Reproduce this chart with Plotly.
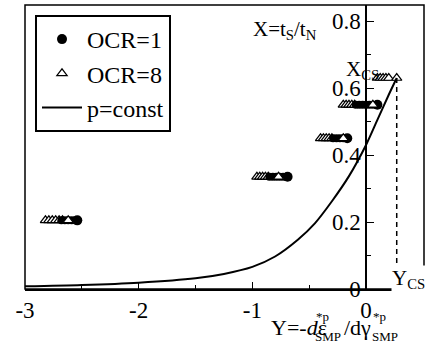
import plotly.graph_objects as go

# ---- data -------------------------------------------------------------
# stress-ratio levels X = tS/tN of the five constant-X paths
path_X = [0.205, 0.335, 0.45, 0.55, 0.63]

# OCR=8 (open triangles): trail of points and final point at each level
ocr8_trail_Y = [
    [-2.82, -2.79, -2.76, -2.73, -2.70, -2.67],
    [-0.96, -0.935, -0.91, -0.885, -0.86],
    [-0.40, -0.375, -0.35, -0.325, -0.30],
    [-0.20, -0.175, -0.15, -0.125, -0.10],
    [0.10, 0.125, 0.15, 0.175, 0.20],
]
ocr8_end_Y = [-2.62, -0.77, -0.20, 0.06, 0.27]

# OCR=1 (filled circles): trail of points and final point at each level
ocr1_trail_Y = [
    [-2.68, -2.65, -2.62, -2.59, -2.56],
    [-0.85, -0.82, -0.79, -0.76, -0.73, -0.70],
    [-0.29, -0.26, -0.23, -0.20],
    [-0.09, -0.06, -0.03, 0.0, 0.03, 0.06],
    [],
]
ocr1_end_Y = [-2.54, -0.69, -0.165, 0.10, None]

# p = const curve
curve_Y = [-3.0, -2.5, -2.0, -1.5, -1.25, -1.0, -0.8, -0.6, -0.45, -0.3,
           -0.15, 0.0, 0.1, 0.2, 0.27]
curve_X = [0.008, 0.012, 0.019, 0.032, 0.045, 0.066, 0.097, 0.147, 0.196, 0.262,
           0.337, 0.43, 0.505, 0.58, 0.63]

# critical state point
Y_CS = 0.27
X_CS = 0.63

x_ticks = [-3, -2, -1, 0]
y_ticks = [0, 0.2, 0.4, 0.6, 0.8]
x_range = [-3.0, 0.51]
y_range = [0.0, 0.848]

FONT = "Liberation Serif"

# ---- figure -----------------------------------------------------------
fig = go.Figure()

def flat(groups, levels):
    xs, ys = [], []
    for g, lv in zip(groups, levels):
        for v in g:
            xs.append(v)
            ys.append(lv)
    return xs, ys

tri_style = dict(symbol="triangle-up", size=9, color="white",
                 line=dict(color="black", width=1.2))
circ_style = dict(symbol="circle", size=10, color="black",
                  line=dict(color="black", width=0))

# triangle trails
tx, ty = flat(ocr8_trail_Y, path_X)
fig.add_trace(go.Scatter(x=tx, y=ty, mode="markers", marker=tri_style,
                         showlegend=False, hoverinfo="skip"))
# circle trails
cx, cy = flat(ocr1_trail_Y, path_X)
fig.add_trace(go.Scatter(x=cx, y=cy, mode="markers",
                         marker=dict(symbol="circle", size=8, color="black"),
                         showlegend=False, hoverinfo="skip"))
# final circles
ex = [v for v in ocr1_end_Y if v is not None]
ey = [lv for v, lv in zip(ocr1_end_Y, path_X) if v is not None]
fig.add_trace(go.Scatter(x=ex, y=ey, mode="markers", marker=circ_style,
                         name="OCR=1"))
# final triangles
fig.add_trace(go.Scatter(x=ocr8_end_Y, y=path_X, mode="markers",
                         marker=tri_style, name="OCR=8"))

# p = const curve
fig.add_trace(go.Scatter(x=curve_Y, y=curve_X, mode="lines",
                         line=dict(color="black", width=2, shape="spline",
                                   smoothing=0.8),
                         name="p=const"))

# dashed drop line from the critical state point
fig.add_trace(go.Scatter(x=[Y_CS, Y_CS], y=[X_CS, 0], mode="lines",
                         line=dict(color="black", width=1.5, dash="5px,4px"),
                         showlegend=False, hoverinfo="skip"))

W, H = 433, 347
L, R, T, B = 25, 9, 5, 58
pw, ph = W - L - R, H - T - B

def px(x):
    return (x - L) / pw

def py(y):
    return (H - B - y) / ph

def ann(text, x, y, size=21, xanchor="left", yanchor="middle", **kw):
    fig.add_annotation(text=text, x=px(x), y=py(y), xref="paper", yref="paper",
                       xanchor=xanchor, yanchor=yanchor, showarrow=False,
                       font=dict(family=FONT, size=size, color="black"),
                       borderpad=0, **kw)

# axis labels
ann("X=t<sub>S</sub>/t<sub>N</sub>", 252, 30)
ann("X<sub>CS</sub>", 345, 70)
ann("Y<sub>CS</sub>", 391, 279, bgcolor="white")

# x-axis title with stacked super/subscripts
ann("Y=-<i>d</i>ε", 270, 327, size=22)
ann("*p", 315, 316, size=13)
ann("SMP", 314, 336, size=13)
ann("/dγ", 343, 327, size=22)
ann("*p", 372, 316, size=13)
ann("SMP", 371, 336, size=13)

y_pos = (0 - x_range[0]) / (x_range[1] - x_range[0])

fig.update_layout(
    template="none",
    width=W, height=H,
    margin=dict(l=L, r=R, t=T, b=B),
    paper_bgcolor="white", plot_bgcolor="white",
    font=dict(family=FONT, size=21, color="black"),
    xaxis=dict(range=x_range, tickvals=x_ticks, ticktext=[str(v) for v in x_ticks],
               ticks="inside", ticklen=7, tickwidth=1.2, tickcolor="black",
               showline=True, linecolor="black", linewidth=1.5,
               showgrid=False, zeroline=False,
               minor=dict(dtick=0.5, tick0=0, ticks="inside", ticklen=4,
                          tickcolor="black", showgrid=False),
               tickfont=dict(family=FONT, size=23, color="black")),
    yaxis=dict(range=y_range, tickvals=y_ticks,
               ticktext=["0", "0.2", "0.4", "0.6", "0.8"],
               anchor="free", position=y_pos,
               ticks="inside", ticklen=7, tickwidth=1.2, tickcolor="black",
               showline=True, linecolor="black", linewidth=1.5,
               showgrid=False, zeroline=False,
               minor=dict(dtick=0.1, tick0=0, ticks="inside", ticklen=4,
                          tickcolor="black", showgrid=False),
               tickfont=dict(family=FONT, size=23, color="black")),
    legend=dict(x=px(35), y=py(15), xanchor="left", yanchor="top",
                bordercolor="black", borderwidth=2, bgcolor="white",
                font=dict(family=FONT, size=24, color="black"), itemwidth=40,
                tracegroupgap=0),
    showlegend=True,
)

# plot frame
fig.add_shape(type="rect", xref="x domain", yref="y domain", x0=0, x1=1, y0=0, y1=1,
              line=dict(color="black", width=1.5), layer="above")

fig.write_html("out.html")
